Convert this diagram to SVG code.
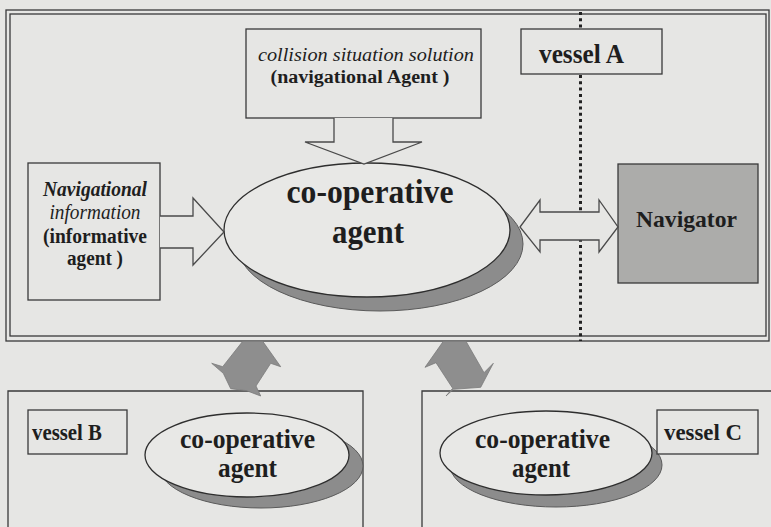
<svg xmlns="http://www.w3.org/2000/svg" width="771" height="527" viewBox="0 0 771 527">
<defs>
<style>
.bg{fill:#e6e6e4}
.ln{fill:none;stroke:#3a3a3a;stroke-width:1.3}
.box{fill:#e6e6e4;stroke:#3a3a3a;stroke-width:1.3}
.ell{fill:#e8e8e6;stroke:#2e2e2e;stroke-width:1.3}
.shd{fill:#8c8c8c;stroke:#5a5a5a;stroke-width:1}
.arr{fill:#e6e6e4;stroke:#4a4a4a;stroke-width:1.3;stroke-linejoin:miter}
.garr{fill:#8e8e8e;stroke:#7a7a7a;stroke-width:0.8}
.t{font-family:"Liberation Serif","Times New Roman",serif;fill:#1e1e1e}
.b{font-weight:bold}
.i{font-style:italic}
</style>
</defs>
<rect class="bg" x="0" y="0" width="771" height="527"/>

<g id="frame-vesselA">
<rect class="ln" x="6" y="10" width="763" height="331"/>
<rect class="ln" x="10" y="14" width="756" height="322"/>
</g>

<g id="separator">
<line x1="580.5" y1="12" x2="580.5" y2="341" stroke="#222" stroke-width="3" stroke-dasharray="3 3.3"/>
</g>

<g id="coop-main">
<ellipse class="shd" cx="380" cy="244" rx="143" ry="67"/>
<ellipse class="ell" cx="367" cy="230" rx="143" ry="67"/>
<text class="t b" x="370" y="203" font-size="33" text-anchor="middle" textLength="167" lengthAdjust="spacingAndGlyphs">co-operative</text>
<text class="t b" x="368" y="243" font-size="33" text-anchor="middle" textLength="72" lengthAdjust="spacingAndGlyphs">agent</text>
</g>

<g id="collision">
<rect class="box" x="246" y="29" width="235" height="89"/>
<text class="t i" x="366" y="61" font-size="18" text-anchor="middle" textLength="216" lengthAdjust="spacingAndGlyphs">collision situation solution</text>
<text class="t b" x="360" y="83" font-size="18" text-anchor="middle" textLength="179" lengthAdjust="spacingAndGlyphs">(navigational Agent )</text>
</g>

<g id="navinfo">
<rect class="box" x="28" y="163" width="132" height="137"/>
<text class="t i b" x="95" y="196" font-size="20" text-anchor="middle" textLength="104" lengthAdjust="spacingAndGlyphs">Navigational</text>
<text class="t i" x="95" y="219" font-size="20" text-anchor="middle" textLength="91" lengthAdjust="spacingAndGlyphs">information</text>
<text class="t b" x="95" y="243" font-size="20" text-anchor="middle" textLength="104" lengthAdjust="spacingAndGlyphs">(informative</text>
<text class="t b" x="95" y="265" font-size="20" text-anchor="middle" textLength="56" lengthAdjust="spacingAndGlyphs">agent )</text>
</g>

<g id="vesselA">
<rect class="box" x="521" y="29" width="141" height="45"/>
<text class="t b" x="581.5" y="63" font-size="27" text-anchor="middle" textLength="85" lengthAdjust="spacingAndGlyphs">vessel A</text>
</g>

<g id="navigator">
<rect x="618" y="164" width="140" height="119" fill="#acacaa" stroke="#3a3a3a" stroke-width="1.3"/>
<text class="t b" x="686.5" y="227" font-size="23" text-anchor="middle" textLength="101" lengthAdjust="spacingAndGlyphs">Navigator</text>
</g>

<g id="vesselB-frame">
<polyline class="ln" points="8,527 8,391 363,391 363,527"/>
</g>
<g id="vesselB">
<rect class="box" x="28" y="410" width="99" height="44"/>
<text class="t b" x="32" y="440" font-size="23" textLength="70" lengthAdjust="spacingAndGlyphs">vessel B</text>
</g>
<g id="coopB">
<ellipse class="shd" cx="261" cy="466" rx="102" ry="42"/>
<ellipse class="ell" cx="247" cy="455" rx="102" ry="42"/>
<text class="t b" x="247.5" y="448" font-size="27" text-anchor="middle" textLength="135" lengthAdjust="spacingAndGlyphs">co-operative</text>
<text class="t b" x="247.5" y="477" font-size="27" text-anchor="middle" textLength="59" lengthAdjust="spacingAndGlyphs">agent</text>
</g>

<g id="vesselC-frame">
<polyline class="ln" points="422,527 422,391 771,391"/>
</g>
<g id="coopC">
<ellipse class="shd" cx="556" cy="465" rx="106" ry="42"/>
<ellipse class="ell" cx="546" cy="453" rx="106" ry="42"/>
<text class="t b" x="542.5" y="448" font-size="27" text-anchor="middle" textLength="135" lengthAdjust="spacingAndGlyphs">co-operative</text>
<text class="t b" x="541" y="477" font-size="27" text-anchor="middle" textLength="58" lengthAdjust="spacingAndGlyphs">agent</text>
</g>
<g id="vesselC">
<rect class="box" x="657" y="410" width="101" height="44"/>
<text class="t b" x="664" y="440" font-size="23" textLength="78" lengthAdjust="spacingAndGlyphs">vessel C</text>
</g>

<g id="connectors">
<polyline class="arr" points="334,118 334,142 305,142 364,164 422,142 393,142 393,118"/>
<polyline class="arr" points="160,216 193,216 193,198 224,232 193,265 193,248 160,248"/>
<polygon class="arr" points="520,227 540,200 540,212 599,212 599,200 618,227 599,252 599,240 540,240 540,252"/>
<polygon class="garr" points="242.7,341.3 262.7,341.3 280.7,366.7 270.7,363.3 256,386 260.7,396 246.7,390.7 230.7,388.7 223.3,373.3 211.7,363.3 222.7,366.7"/>
<polygon class="garr" points="443.3,341.3 466,341.3 484,372.7 493.3,363.3 480.7,387.3 453.3,389.3 446,396 452.7,388.3 436,362.7 425,367.3"/>
</g>
</svg>
